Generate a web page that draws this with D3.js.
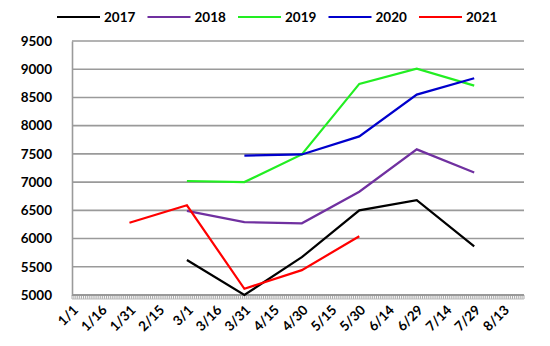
<!DOCTYPE html>
<html><head><meta charset="utf-8">
<script src="https://cdn.jsdelivr.net/npm/d3@7"></script>
<style>body{margin:0;background:#fff}svg{display:block}text{font-family:Lato,"Open Sans",sans-serif;font-weight:bold;fill:#000}</style>
</head><body><svg id="c" width="550" height="346"></svg>
<script>
const seriesNames = ["2017","2018","2019","2020","2021"];
const colors = ["#000000","#7030A0","#22EE22","#0000CC","#FF0000"];
const dates2017 = ["3/1","3/31","4/30","5/30","6/29","7/29"];
const values2017 = [5620,5000,5670,6500,6680,5860];
const dates2018 = ["3/1","3/31","4/30","5/30","6/29","7/29"];
const values2018 = [6490,6290,6270,6830,7580,7170];
const dates2019 = ["3/1","3/31","4/30","5/30","6/29","7/29"];
const values2019 = [7020,7000,7490,8740,9010,8710];
const dates2020 = ["3/31","4/30","5/30","6/29","7/29"];
const values2020 = [7470,7490,7810,8550,8840];
const dates2021 = ["1/31","3/1","3/31","4/30","5/30"];
const values2021 = [6280,6590,5110,5440,6040];
const xTickLabels = ["1/1","1/16","1/31","2/15","3/1","3/16","3/31","4/15","4/30","5/15","5/30","6/14","6/29","7/14","7/29","8/13"];
const yTicks = [5000,5500,6000,6500,7000,7500,8000,8500,9000,9500];

const allDates = [dates2017,dates2018,dates2019,dates2020,dates2021];
const allValues = [values2017,values2018,values2019,values2020,values2021];

const parse = s => { const [m,d] = s.split("/").map(Number); return new Date(2020, m-1, d); };
const svg = d3.select("#c");
const L = 72, R = 524, T = 41, B = 295;
const x = d3.scaleTime().domain([new Date(2020,0,1), new Date(2020,7,24)]).range([L,R]);
const y = d3.scaleLinear().domain([5000,9500]).range([B,T]);

// gridlines
svg.append("g").selectAll("line").data(yTicks.slice(1)).join("line")
  .attr("x1",L).attr("x2",R).attr("y1",d=>y(d)).attr("y2",d=>y(d))
  .attr("stroke","#9a9a9a").attr("stroke-width",1.6);
// left axis
const ya = svg.append("g").attr("transform",`translate(${L},0)`)
  .call(d3.axisLeft(y).tickValues(yTicks).tickSize(0).tickPadding(20).tickFormat(d3.format("d")));
ya.select(".domain").attr("stroke","#9a9a9a").attr("stroke-width",1.6);
ya.selectAll("text").attr("font-size",13.5).style("font-family","Lato").style("font-weight","bold");

// bottom axis minor ticks (daily)
const days = d3.timeDay.range(new Date(2020,0,1), new Date(2020,7,25));
svg.append("g").selectAll("line").data(days).join("line")
  .attr("x1",d=>x(d)).attr("x2",d=>x(d)).attr("y1",B).attr("y2",B+4)
  .attr("stroke","#aaa").attr("stroke-width",1);
svg.append("line").attr("x1",L).attr("x2",R).attr("y1",B).attr("y2",B).attr("stroke","#999").attr("stroke-width",2);
svg.append("line").attr("x1",L).attr("x2",R).attr("y1",B+4).attr("y2",B+4).attr("stroke","#bbb").attr("stroke-width",1);

// x labels
svg.append("g").selectAll("text").data(xTickLabels).join("text")
  .attr("transform",d=>`translate(${x(parse(d))+7},${B+16}) rotate(-45)`)
  .attr("text-anchor","end").attr("font-size",13.5).text(d=>d);

// lines
const line = d3.line().x(d=>x(parse(d[0]))).y(d=>y(d[1]));
allDates.forEach((ds,i)=>{
  svg.append("path").datum(ds.map((d,j)=>[d,allValues[i][j]]))
    .attr("d",line).attr("fill","none").attr("stroke",colors[i]).attr("stroke-width",2.2)
    .attr("stroke-linejoin","miter");
});

// legend
const lg = svg.append("g");
seriesNames.forEach((n,i)=>{
  const lx = 57 + i*90.5;
  lg.append("line").attr("x1",lx).attr("x2",lx+43).attr("y1",17).attr("y2",17)
    .attr("stroke",colors[i]).attr("stroke-width",2.2);
  lg.append("text").attr("x",lx+47).attr("y",22).attr("font-size",13.5).text(n);
});
</script></body></html>
